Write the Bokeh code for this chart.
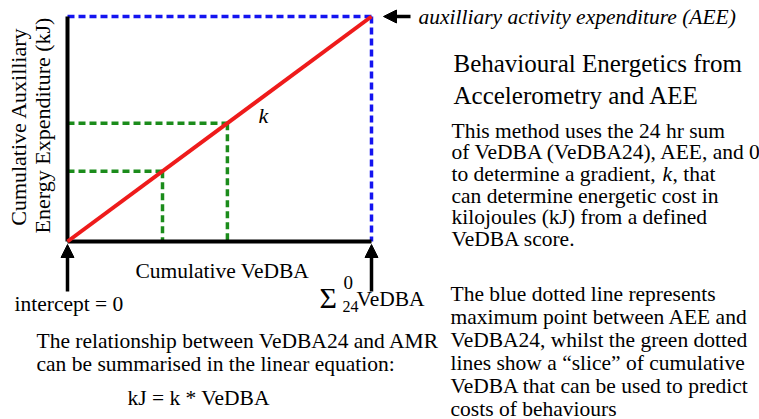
import math
from bokeh.plotting import figure
from bokeh.models import Range1d, Label, Arrow, NormalHead
from bokeh.embed import file_html
from bokeh.resources import INLINE

# ---- data (normalised units) ----
vedba24 = 1.0          # 24 h cumulative VeDBA
aee = 1.0              # auxiliary activity expenditure
k = aee / vedba24      # gradient
slice_x = [0.3125, 0.526]   # green "slice" VeDBA values
slice_y = [k * v for v in slice_x]

W, H = 759, 419
X0, Y0 = 67, 241          # pixel of origin (from top-left)
SX, SY = 304, 225         # pixels per unit

p = figure(width=W, height=H, output_backend="svg", toolbar_location=None,
           x_range=Range1d(-X0 / SX, (W - X0) / SX),
           y_range=Range1d(-(H - Y0) / SY, Y0 / SY),
           min_border=0)
p.axis.visible = False
p.grid.visible = False
p.outline_line_color = None
p.background_fill_color = "white"

FONT = "Liberation Serif"
RED = "#ee1b1b"
BLUE = "#1414f0"
GREEN = "#1b8c1b"

# blue dotted max lines
p.line([0, vedba24], [aee, aee], line_color=BLUE, line_width=3.5, line_dash="7 4")
p.line([vedba24, vedba24], [aee, 0], line_color=BLUE, line_width=3.5, line_dash="7 4")
# green slices
for sx, sy in zip(slice_x, slice_y):
    p.line([0, sx], [sy, sy], line_color=GREEN, line_width=3.5, line_dash="7 4")
    p.line([sx, sx], [sy, 0], line_color=GREEN, line_width=3.5, line_dash="7 4")
# axes
p.line([0, 0], [0, aee], line_color="black", line_width=4)
p.line([0, vedba24], [0, 0], line_color="black", line_width=4)
# regression line
p.line([0, vedba24], [0, k * vedba24], line_color=RED, line_width=4)


def px2data(X, Y):
    # picture pixel -> data coordinates
    return (X - X0) / SX, (Y0 - Y) / SY


def arrow(x1, y1, x2, y2):
    a = px2data(x1, y1)
    b = px2data(x2, y2)
    p.add_layout(Arrow(x_start=a[0], y_start=a[1], x_end=b[0], y_end=b[1],
                       line_width=3.5, line_color="black",
                       end=NormalHead(size=13, fill_color="black", line_color="black")))


arrow(67, 291, 67, 244)
arrow(371, 291, 371, 244)
arrow(410, 16, 383, 16)


def label(txt, X, Y, size=21.5, align="left", style="normal", angle=0.0):
    x, y = px2data(X, Y)
    p.add_layout(Label(x=x, y=y, text=txt, text_font=FONT, text_font_size=f"{size}px",
                       text_align=align, text_baseline="middle", text_color="black",
                       text_font_style=style, angle=angle))


label("Cumulative Auxilliary", 18, 126, 22, "center", angle=math.pi / 2)
label("Energy Expenditure (kJ)", 42, 125, 22, "center", angle=math.pi / 2)
label("Cumulative VeDBA", 135, 270)
label("intercept = 0", 14, 303)
label("Σ", 319, 297, 30)
label("0", 343, 282, 19)
label("24", 342, 306, 16)
label("VeDBA", 356, 298)
label("k", 258, 115, 22, style="italic")
label("auxilliary activity expenditure (AEE)", 418, 16, 21.5, style="italic")

label("The relationship between VeDBA24 and AMR", 36, 340)
label("can be summarised in the linear equation:", 36, 363)
label("kJ = k * VeDBA", 127, 397)

label("Behavioural Energetics from", 453, 63, 25)
label("Accelerometry and AEE", 453, 95, 25)

body1 = ["This method uses the 24 hr sum",
         "of VeDBA (VeDBA24), AEE, and 0",
         "to determine a gradient,",
         "can determine energetic cost in",
         "kilojoules (kJ) from a defined",
         "VeDBA score."]
for i, t in enumerate(body1):
    label(t, 451, 130 + 21.7 * i)
label("k", 662, 130 + 21.7 * 2, style="italic")
label(", that", 672, 130 + 21.7 * 2)

body2 = ["The blue dotted line represents",
         "maximum point between AEE and",
         "VeDBA24, whilst the green dotted",
         "lines show a \u201cslice\u201d of cumulative",
         "VeDBA that can be used to predict",
         "costs of behaviours"]
for i, t in enumerate(body2):
    label(t, 450, 293 + 23 * i)

open("out.html", "w").write(file_html(p, INLINE))
